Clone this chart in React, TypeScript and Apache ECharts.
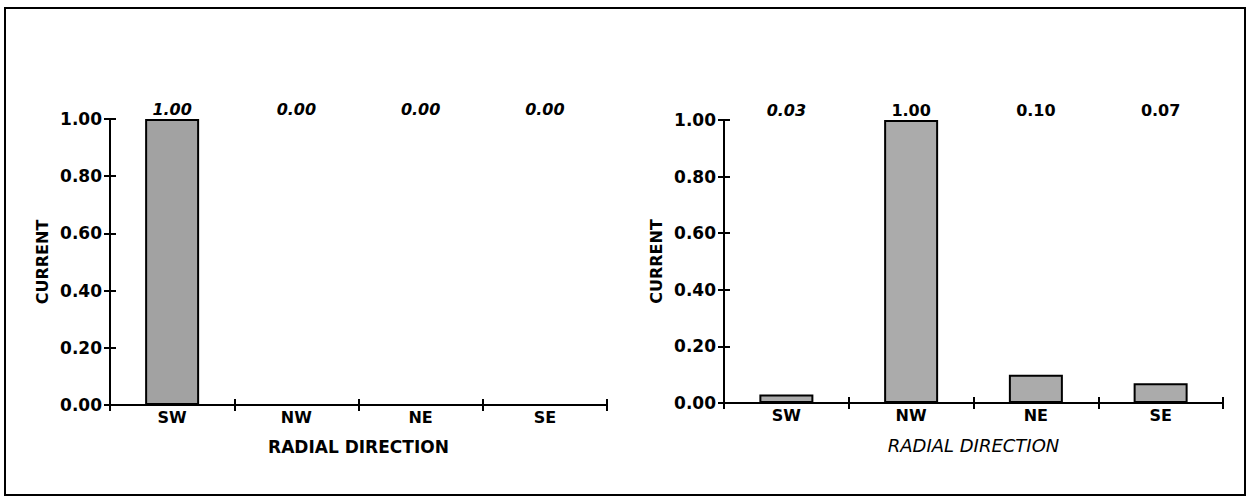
import React, { useEffect, useRef } from "react";
import * as echarts from "echarts";

const categories = ["SW", "NW", "NE", "SE"];
const leftValues = [1.0, 0.0, 0.0, 0.0];
const rightValues = [0.03, 1.0, 0.1, 0.07];
const leftLabelItalic = [true, true, true, true];
const rightLabelItalic = [true, false, false, false];
const yTicks = [0, 0.2, 0.4, 0.6, 0.8, 1.0];

const FONT = "'DejaVu Sans', 'Liberation Sans', Arial, sans-serif";

export default function App() {
  const ref = useRef<HTMLDivElement>(null);
  useEffect(() => {
    if (!ref.current) return;
    const chart = echarts.init(ref.current, undefined, { renderer: "svg" });

    const grids = [
      { left: 110, right: 645, top: 119, bottom: 93 },
      { left: 724, right: 29, top: 120, bottom: 95 },
    ];

    const xAxes: any[] = [];
    const yAxes: any[] = [];
    const series: any[] = [];
    const names = [
      { fontStyle: "normal", fontWeight: "bold", fontSize: 17 },
      { fontStyle: "italic", fontWeight: "normal", fontSize: 18 },
    ];
    [0, 1].forEach((g) => {
      xAxes.push({
        type: "category",
        gridIndex: g,
        data: categories,
        position: "bottom",
        boundaryGap: true,
        axisLine: { lineStyle: { color: "#000", width: 2 } },
        axisTick: { show: true, alignWithLabel: false, length: 6, lineStyle: { color: "#000", width: 2 } },
        axisLabel: { color: "#000", fontFamily: FONT, fontWeight: "bold", fontSize: 16, margin: 4 },
        name: "RADIAL DIRECTION",
        nameLocation: "middle",
        nameGap: 33,
        nameTextStyle: {
          color: "#000",
          fontFamily: FONT,
          fontSize: names[g].fontSize,
          fontWeight: names[g].fontWeight,
          fontStyle: names[g].fontStyle,
        },
      });
      xAxes.push({
        type: "category",
        gridIndex: g,
        data: categories,
        position: "bottom",
        boundaryGap: true,
        axisLine: { show: false },
        axisTick: { show: true, inside: true, alignWithLabel: false, length: 6, lineStyle: { color: "#000", width: 2 } },
        axisLabel: { show: false },
      });
      yAxes.push({
        type: "value",
        gridIndex: g,
        min: 0,
        max: 1,
        interval: 0.2,
        position: "left",
        splitLine: { show: false },
        axisLine: { show: true, lineStyle: { color: "#000", width: 2 } },
        axisTick: { show: true, length: 6, lineStyle: { color: "#000", width: 2 } },
        axisLabel: {
          color: "#000",
          fontFamily: FONT,
          fontWeight: "bold",
          fontSize: 17,
          margin: 8,
          formatter: (v: number) => v.toFixed(2),
        },
        name: "CURRENT",
        nameLocation: "middle",
        nameGap: 60,
        nameRotate: 90,
        nameTextStyle: { color: "#000", fontFamily: FONT, fontSize: 16, fontWeight: "bold" },
      });
      yAxes.push({
        type: "value",
        gridIndex: g,
        min: 0,
        max: 1,
        interval: 0.2,
        position: "left",
        splitLine: { show: false },
        axisLine: { show: false },
        axisTick: { show: true, inside: true, length: 6, lineStyle: { color: "#000", width: 2 } },
        axisLabel: { show: false },
      });
    });

    const datasets = [leftValues, rightValues];
    const italics = [leftLabelItalic, rightLabelItalic];
    [0, 1].forEach((g) => {
      series.push({
        type: "bar",
        xAxisIndex: g * 2,
        yAxisIndex: g * 2,
        barWidth: 54,
        data: datasets[g],
        itemStyle: { color: g === 0 ? "#a2a2a2" : "#ababab", borderColor: "#000", borderWidth: 2 },
        z: 3,
      });
      series.push({
        type: "scatter",
        xAxisIndex: g * 2,
        yAxisIndex: g * 2,
        symbolSize: 0,
        itemStyle: { opacity: 1, color: "#000" },
        label: { show: true, color: "#000" },
        data: datasets[g].map((v, i) => ({
          value: [categories[i], yTicks[yTicks.length - 1]],
          label: {
            show: true,
            position: "top",
            distance: 2,
            formatter: v.toFixed(2),
            color: "#000",
            fontFamily: FONT,
            fontWeight: "bold",
            fontSize: 16,
            fontStyle: italics[g][i] ? "italic" : "normal",
          },
        })),
        z: 5,
      });
    });

    chart.setOption({
      animation: false,
      backgroundColor: "#fff",
      grid: grids,
      xAxis: xAxes,
      yAxis: yAxes,
      series,
      graphic: [
        {
          type: "rect",
          shape: { x: 5, y: 8, width: 1240, height: 487 },
          style: { fill: "none", stroke: "#000", lineWidth: 2 },
          silent: true,
        },
      ],
    });
    return () => chart.dispose();
  }, []);
  return (
    <div
      ref={ref}
      style={{ position: "fixed", left: 0, top: 0, width: 1252, height: 498 }}
    />
  );
}
